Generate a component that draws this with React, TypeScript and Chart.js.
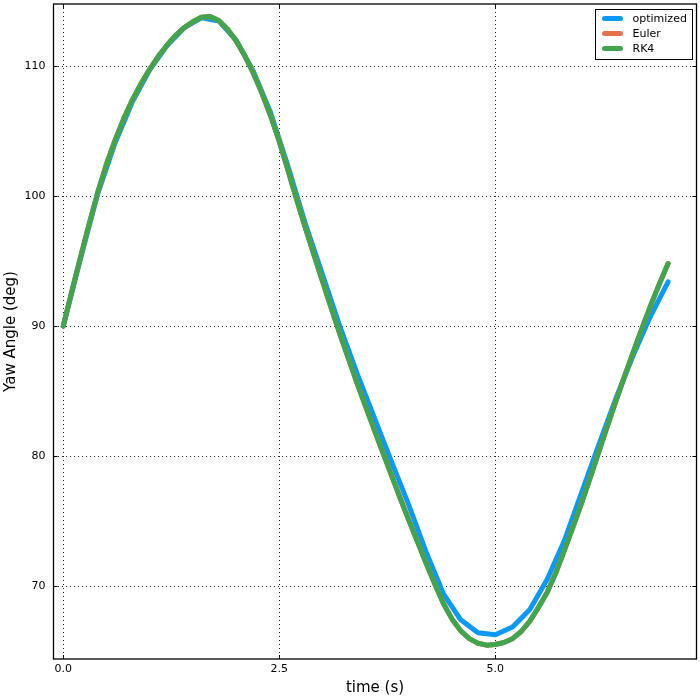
import { useEffect, useRef } from "react";
import { Chart, registerables } from "chart.js";

Chart.register(...registerables);

// ---- data ----
const timeFine = [
  0.0, 0.1, 0.2, 0.3, 0.4, 0.5, 0.6, 0.7, 0.8, 0.9,
  1.0, 1.1, 1.2, 1.3, 1.4, 1.5, 1.6, 1.7, 1.8, 1.9,
  2.0, 2.1, 2.2, 2.3, 2.4, 2.5, 2.6, 2.7, 2.8, 2.9,
  3.0, 3.1, 3.2, 3.3, 3.4, 3.5, 3.6, 3.7, 3.8, 3.9,
  4.0, 4.1, 4.2, 4.3, 4.4, 4.5, 4.6, 4.7, 4.8, 4.9,
  5.0, 5.1, 5.2, 5.3, 5.4, 5.5, 5.6, 5.7, 5.8, 5.9,
  6.0, 6.1, 6.2, 6.3, 6.4, 6.5, 6.6, 6.7, 6.8, 6.9,
  7.0,
];

const rk4Yaw = [
  90.0, 92.7, 95.3, 97.85, 100.3, 102.45, 104.3, 105.95, 107.4, 108.65,
  109.75, 110.75, 111.6, 112.35, 112.95, 113.4, 113.75, 113.8, 113.5, 112.85,
  111.95, 110.8, 109.45, 107.9, 106.15, 104.2, 102.0, 99.75, 97.6, 95.5,
  93.45, 91.4, 89.4, 87.5, 85.6, 83.8, 82.0, 80.25, 78.5, 76.75,
  75.05, 73.4, 71.75, 70.15, 68.65, 67.45, 66.55, 65.95, 65.6, 65.45,
  65.5, 65.65, 65.95, 66.5, 67.3, 68.35, 69.5, 71.0, 72.75, 74.55,
  76.4, 78.35, 80.35, 82.35, 84.3, 86.2, 88.05, 89.85, 91.6, 93.25,
  94.8,
];

const eulerYaw = [
  90.0, 92.7, 95.3, 97.85, 100.3, 102.45, 104.3, 105.95, 107.4, 108.65,
  109.75, 110.75, 111.6, 112.35, 112.95, 113.4, 113.75, 113.8, 113.5, 112.85,
  111.95, 110.8, 109.45, 107.9, 106.15, 104.2, 102.0, 99.75, 97.6, 95.5,
  93.45, 91.4, 89.4, 87.5, 85.6, 83.8, 82.0, 80.25, 78.5, 76.75,
  75.05, 73.4, 71.75, 70.15, 68.65, 67.45, 66.55, 65.95, 65.6, 65.45,
  65.5, 65.65, 65.95, 66.5, 67.3, 68.35, 69.5, 71.0, 72.75, 74.55,
  76.4, 78.35, 80.35, 82.35, 84.3, 86.2, 88.05, 89.85, 91.6, 93.25,
  94.8,
];

const timeCoarse = [
  0.0, 0.2, 0.4, 0.6, 0.8, 1.0, 1.2, 1.4, 1.6, 1.8,
  2.0, 2.2, 2.4, 2.6, 2.8, 3.0, 3.2, 3.4, 3.6, 3.8,
  4.0, 4.2, 4.4, 4.6, 4.8, 5.0, 5.2, 5.4, 5.6, 5.8,
  6.0, 6.2, 6.4, 6.6, 6.8, 7.0,
];

const optimizedYaw = [
  90.0, 95.2, 100.2, 104.1, 107.25, 109.7, 111.55, 112.95, 113.7, 113.45,
  112.0, 109.6, 106.4, 102.3, 97.9, 93.95, 90.0, 86.35, 82.95, 79.55,
  76.2, 72.6, 69.4, 67.4, 66.4, 66.25, 66.85, 68.2, 70.5, 73.5,
  77.2, 80.9, 84.5, 87.8, 90.8, 93.4,
];

const xTickValues = [0.0, 2.5, 5.0];
const yTickValues = [70, 80, 90, 100, 110];
const seriesNames = ["optimized", "Euler", "RK4"];
const seriesColors = ["#0a99f7", "#e8714b", "#41a54e"];

const xLimits = [-0.113, 7.329];
const yLimits = [64.385, 114.77];

const FONT = "'DejaVu Sans', sans-serif";

const zip = (xs: number[], ys: number[]) => xs.map((x, i) => ({ x, y: ys[i] }));

const framePlugin = {
  id: "frameAndLegend",
  afterDraw(chart: any) {
    const { ctx, chartArea: a, scales } = chart;
    ctx.save();
    ctx.strokeStyle = "#000";
    ctx.lineWidth = 1;
    const L = 4;
    ctx.beginPath();
    for (const v of xTickValues) {
      const px = Math.round(scales.x.getPixelForValue(v)) + 0.5;
      ctx.moveTo(px, a.bottom);
      ctx.lineTo(px, a.bottom - L);
      ctx.moveTo(px, a.top);
      ctx.lineTo(px, a.top + L);
    }
    for (const v of yTickValues) {
      const py = Math.round(scales.y.getPixelForValue(v)) + 0.5;
      ctx.moveTo(a.left, py);
      ctx.lineTo(a.left + L, py);
      ctx.moveTo(a.right, py);
      ctx.lineTo(a.right - L, py);
    }
    ctx.stroke();
    ctx.lineWidth = 1.3;
    ctx.strokeRect(a.left, a.top, a.right - a.left, a.bottom - a.top);

    // legend box
    const bw = 97;
    const bh = 50;
    const bx = Math.round(a.right - 5 - bw) + 0.5;
    const by = Math.round(a.top + 5) + 0.5;
    ctx.fillStyle = "#fff";
    ctx.fillRect(bx, by, bw, bh);
    ctx.lineWidth = 1;
    ctx.strokeStyle = "#000";
    ctx.strokeRect(bx, by, bw, bh);
    ctx.font = `11px ${FONT}`;
    ctx.textBaseline = "middle";
    ctx.textAlign = "left";
    chart.data.datasets.forEach((ds: any, i: number) => {
      const cy = by + 9 + i * 15;
      ctx.strokeStyle = ds.borderColor;
      ctx.lineWidth = 5;
      ctx.lineCap = "round";
      ctx.beginPath();
      ctx.moveTo(bx + 9, cy);
      ctx.lineTo(bx + 25, cy);
      ctx.stroke();
      ctx.fillStyle = "#000";
      ctx.fillText(ds.label, bx + 37, cy + 0.5);
    });
    ctx.restore();
  },
};

export default function App() {
  const canvasRef = useRef<HTMLCanvasElement | null>(null);

  useEffect(() => {
    const canvas = canvasRef.current;
    if (!canvas) return;
    const seriesData = [
      zip(timeCoarse, optimizedYaw),
      zip(timeFine, eulerYaw),
      zip(timeFine, rk4Yaw),
    ];
    const drawOrder = [3, 2, 1];
    const chart = new Chart(canvas, {
      type: "line",
      data: {
        datasets: seriesNames.map((name, i) => ({
          label: name,
          data: seriesData[i],
          borderColor: seriesColors[i],
          backgroundColor: seriesColors[i],
          borderWidth: 5,
          borderCapStyle: "round",
          borderJoinStyle: "round",
          pointRadius: 0,
          tension: 0,
          fill: false,
          order: drawOrder[i],
        })),
      },
      options: {
        animation: false,
        responsive: false,
        maintainAspectRatio: false,
        layout: { padding: { top: 4, right: 3.5, left: 0, bottom: 0 } },
        plugins: {
          legend: { display: false },
          tooltip: { enabled: false },
        },
        scales: {
          x: {
            type: "linear",
            min: xLimits[0],
            max: xLimits[1],
            afterBuildTicks: (scale: any) => {
              scale.ticks = xTickValues.map((v) => ({ value: v }));
            },
            afterFit: (scale: any) => {
              scale.height = 41;
              scale.paddingLeft = 0;
              scale.paddingRight = 0;
              scale.paddingTop = 0;
              scale.paddingBottom = 0;
            },
            grid: {
              color: "rgba(0,0,0,0.85)",
              lineWidth: 1,
              drawTicks: false,
            },
            border: { display: false, dash: [1, 3] },
            ticks: {
              color: "#000",
              font: { family: FONT, size: 11 },
              padding: 4,
              maxRotation: 0,
              callback: (v: any) => Number(v).toFixed(1),
            },
            title: {
              display: true,
              text: "time (s)",
              color: "#000",
              font: { family: FONT, size: 15 },
              padding: { top: 0, bottom: 3 },
            },
          },
          y: {
            type: "linear",
            min: yLimits[0],
            max: yLimits[1],
            afterBuildTicks: (scale: any) => {
              scale.ticks = yTickValues.map((v) => ({ value: v }));
            },
            afterFit: (scale: any) => {
              scale.width = 53.5;
              scale.paddingLeft = 0;
              scale.paddingRight = 0;
              scale.paddingTop = 0;
              scale.paddingBottom = 0;
            },
            grid: {
              color: "rgba(0,0,0,0.85)",
              lineWidth: 1,
              drawTicks: false,
            },
            border: { display: false, dash: [1, 3] },
            ticks: {
              color: "#000",
              font: { family: FONT, size: 11 },
              padding: 8,
              callback: (v: any) => String(v),
            },
            title: {
              display: true,
              text: "Yaw Angle (deg)",
              color: "#000",
              font: { family: FONT, size: 15 },
              padding: { top: 2, bottom: 0 },
            },
          },
        },
      },
      plugins: [framePlugin],
    } as any);
    return () => chart.destroy();
  }, []);

  return (
    <div style={{ position: "absolute", left: 0, top: 0, width: 700, height: 700, background: "#fff" }}>
      <canvas ref={canvasRef} width={700} height={700} style={{ display: "block" }} />
    </div>
  );
}
